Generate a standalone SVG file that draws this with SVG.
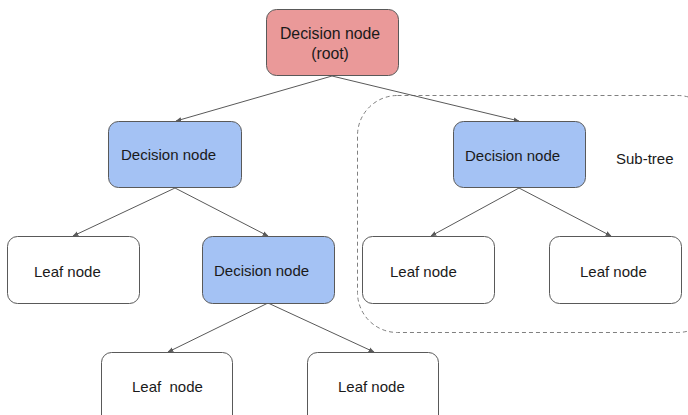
<svg xmlns="http://www.w3.org/2000/svg" width="688" height="415" viewBox="0 0 688 415">
<defs>
<style>
.n{stroke:#595959;stroke-width:1}
.leaf{fill:#ffffff}
.dec{fill:#a4c2f4}
.root{fill:#ea9999}
.t{font-family:"Liberation Sans",Arial,sans-serif;font-size:15px;fill:#1a1a1a}
.rt{font-size:15.8px}
.c{fill:none;stroke:#595959;stroke-width:1}
</style>
<marker id="ah" viewBox="0 0 10 10" refX="9" refY="5" markerWidth="6" markerHeight="6" orient="auto" markerUnits="userSpaceOnUse">
<path d="M0,1 L10,5 L0,9 z" fill="#595959"/>
</marker>
</defs>
<rect width="688" height="415" fill="#ffffff"/>
<g id="subtree">
<rect x="357.5" y="95.5" width="360" height="237" rx="40" ry="40" fill="none" stroke="#808080" stroke-width="1" stroke-dasharray="4,3"/>
<text class="t" x="616" y="164">Sub-tree</text>
</g>
<g id="connectors">
<line class="c" x1="332" y1="76" x2="176" y2="121" marker-end="url(#ah)"/>
<line class="c" x1="332" y1="76" x2="519" y2="121" marker-end="url(#ah)"/>
<line class="c" x1="175" y1="188" x2="73" y2="236" marker-end="url(#ah)"/>
<line class="c" x1="175" y1="188" x2="268" y2="236" marker-end="url(#ah)"/>
<line class="c" x1="519" y1="188" x2="431" y2="236" marker-end="url(#ah)"/>
<line class="c" x1="519" y1="188" x2="611" y2="236" marker-end="url(#ah)"/>
<line class="c" x1="268" y1="303" x2="168" y2="352" marker-end="url(#ah)"/>
<line class="c" x1="268" y1="303" x2="374" y2="352" marker-end="url(#ah)"/>
</g>
<g id="root">
<rect class="n root" x="266.5" y="9.5" width="132" height="66" rx="10"/>
<text class="t rt" x="330" y="39" text-anchor="middle">Decision node</text>
<text class="t rt" x="330" y="59" text-anchor="middle">(root)</text>
</g>
<g id="decL">
<rect class="n dec" x="108.5" y="121.5" width="133" height="66" rx="10"/>
<text class="t" x="121" y="160">Decision node</text>
</g>
<g id="decR">
<rect class="n dec" x="453.5" y="121.5" width="132" height="66" rx="10"/>
<text class="t" x="465" y="161">Decision node</text>
</g>
<g id="leaf1">
<rect class="n leaf" x="7.5" y="236.5" width="132" height="67" rx="10"/>
<text class="t" x="34" y="277">Leaf node</text>
</g>
<g id="decM">
<rect class="n dec" x="202.5" y="236.5" width="132" height="67" rx="10"/>
<text class="t" x="214" y="276">Decision node</text>
</g>
<g id="leaf2">
<rect class="n leaf" x="362.5" y="236.5" width="132" height="67" rx="10"/>
<text class="t" x="390" y="277">Leaf node</text>
</g>
<g id="leaf3">
<rect class="n leaf" x="549.5" y="236.5" width="132" height="67" rx="10"/>
<text class="t" x="580" y="277">Leaf node</text>
</g>
<g id="leaf4">
<rect class="n leaf" x="101.5" y="352.5" width="131" height="80" rx="10"/>
<text class="t" x="132" y="392" xml:space="preserve">Leaf  node</text>
</g>
<g id="leaf5">
<rect class="n leaf" x="307.5" y="352.5" width="131" height="80" rx="10"/>
<text class="t" x="338" y="392">Leaf node</text>
</g>
</svg>
